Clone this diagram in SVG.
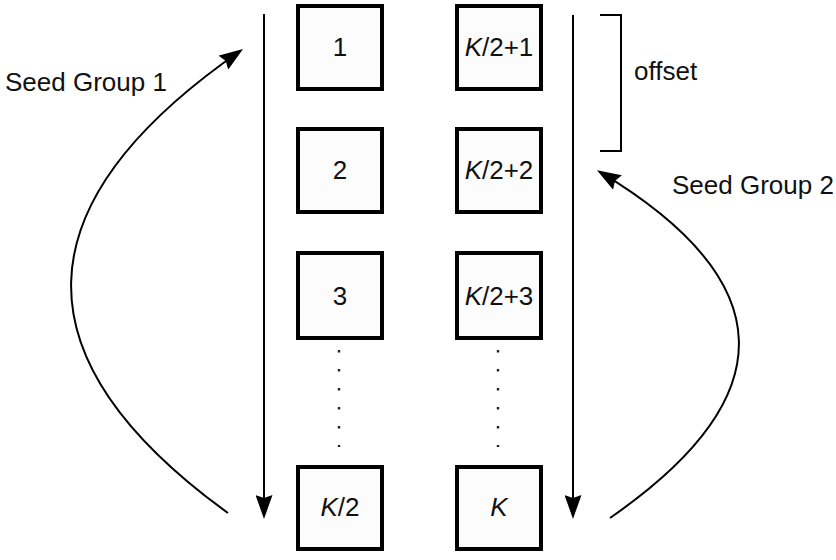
<svg xmlns="http://www.w3.org/2000/svg" width="836" height="560" viewBox="0 0 836 560">
  <style>
    .box { fill: #fcfcfc; stroke: #000; stroke-width: 4; }
    .lbl { font-family: "Liberation Sans", Arial, sans-serif; font-size: 26px; fill: #111; }
    .mid { text-anchor: middle; }
    .line { fill: none; stroke: #000; stroke-width: 2; }
    .dots { fill: none; stroke: #222; stroke-width: 2.4; stroke-dasharray: 2.4 16.6; }
    .it { font-style: italic; }
  </style>
  <defs>
    <marker id="arrow" markerUnits="userSpaceOnUse" markerWidth="24" markerHeight="17" refX="21" refY="8.5" orient="auto" viewBox="0 0 24 17">
      <path d="M0,0 L24,8.5 L0,17 L3,8.5 z" fill="#000"/>
    </marker>
  </defs>

  <rect width="836" height="560" fill="#fff"/>

  <!-- left column: 1 .. K/2 -->
  <g id="node-1">
    <rect class="box" x="298" y="6" width="84" height="83"/>
    <text class="lbl mid" x="340" y="56">1</text>
  </g>
  <g id="node-2">
    <rect class="box" x="298" y="129" width="84" height="83"/>
    <text class="lbl mid" x="340" y="179">2</text>
  </g>
  <g id="node-3">
    <rect class="box" x="298" y="253" width="84" height="85"/>
    <text class="lbl mid" x="340" y="305">3</text>
  </g>
  <g id="node-k2">
    <rect class="box" x="298" y="467" width="84" height="82"/>
    <text class="lbl mid" x="340" y="516"><tspan class="it">K</tspan>/2</text>
  </g>

  <!-- right column: K/2+1 .. K -->
  <g id="node-k2p1">
    <rect class="box" x="457" y="6" width="84" height="83"/>
    <text class="lbl mid" x="499" y="56"><tspan class="it">K</tspan>/2+1</text>
  </g>
  <g id="node-k2p2">
    <rect class="box" x="457" y="129" width="84" height="83"/>
    <text class="lbl mid" x="499" y="179"><tspan class="it">K</tspan>/2+2</text>
  </g>
  <g id="node-k2p3">
    <rect class="box" x="457" y="253" width="84" height="85"/>
    <text class="lbl mid" x="499" y="305"><tspan class="it">K</tspan>/2+3</text>
  </g>
  <g id="node-k">
    <rect class="box" x="457" y="467" width="84" height="82"/>
    <text class="lbl mid" x="499" y="516"><tspan class="it">K</tspan></text>
  </g>

  <!-- labels -->
  <g id="label-seed1"><text class="lbl" x="5" y="91">Seed Group 1</text></g>
  <g id="label-seed2"><text class="lbl" x="672" y="194">Seed Group 2</text></g>
  <g id="label-offset"><text class="lbl" x="634" y="80">offset</text></g>

  <g id="connectors">
    <!-- elision dots -->
    <line class="dots" x1="339" y1="350" x2="339" y2="447"/>
    <line class="dots" x1="498" y1="350" x2="498" y2="447"/>

    <!-- traversal arrows -->
    <line class="line" x1="264" y1="14" x2="264" y2="516" marker-end="url(#arrow)"/>
    <line class="line" x1="573" y1="15" x2="573" y2="516" marker-end="url(#arrow)"/>

    <!-- offset bracket -->
    <polyline class="line" points="600,15 621,15 621,151 600,151"/>

    <!-- seed group curves -->
    <path class="line" d="M228,513 Q-92,281 240.6,50.7" marker-end="url(#arrow)"/>
    <path class="line" d="M610,518 Q873,336 599.5,171.7" marker-end="url(#arrow)"/>
  </g>
</svg>
